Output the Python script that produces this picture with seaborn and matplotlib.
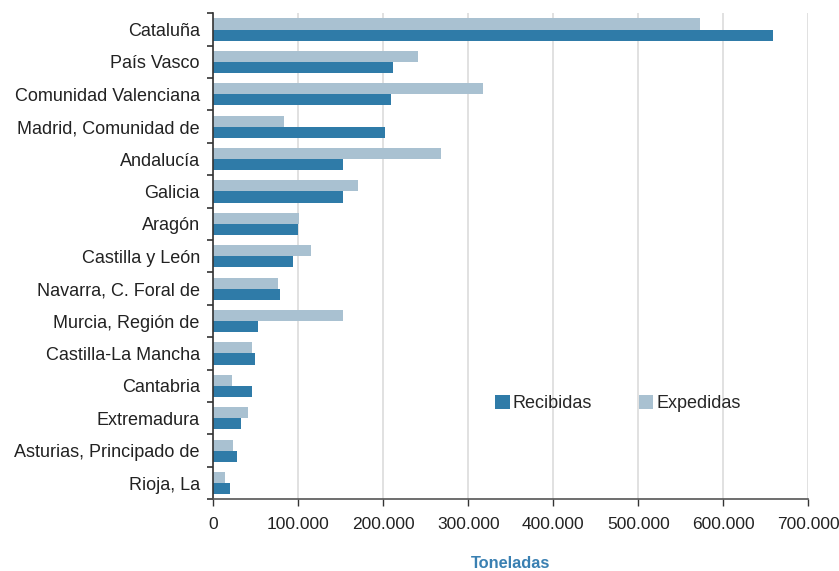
import matplotlib
matplotlib.use("Agg")
import matplotlib.pyplot as plt
import seaborn as sns
import pandas as pd
from matplotlib.ticker import FuncFormatter, FixedLocator
from matplotlib.patches import Patch

regiones = ["Cataluña", "País Vasco", "Comunidad Valenciana", "Madrid, Comunidad de",
            "Andalucía", "Galicia", "Aragón", "Castilla y León", "Navarra, C. Foral de",
            "Murcia, Región de", "Castilla-La Mancha", "Cantabria", "Extremadura",
            "Asturias, Principado de", "Rioja, La"]
recibidas = [658000, 211000, 209000, 201800, 152700, 152700, 99600, 93700, 78400,
             52500, 48900, 45400, 32400, 27700, 19500]
expedidas = [572000, 240600, 317600, 83600, 268000, 170400, 100800, 115000, 76000,
             152700, 45400, 21800, 40700, 23000, 13600]
x_ticks = [0, 100000, 200000, 300000, 400000, 500000, 600000, 700000]

col_rec = "#2f7ba8"
col_exp = "#a9c1d1"

df = pd.DataFrame({
    "Region": regiones * 2,
    "Tipo": ["Expedidas"] * len(regiones) + ["Recibidas"] * len(regiones),
    "Toneladas": expedidas + recibidas,
})

sns.set_theme(style="white")
plt.rcParams["font.family"] = ["Liberation Sans", "DejaVu Sans"]

fig = plt.figure(figsize=(8.39, 5.71), dpi=100)
ax = fig.add_axes([0.2539, 0.1256, 0.9636 - 0.2539, 0.9767 - 0.1256])

sns.barplot(data=df, y="Region", x="Toneladas", hue="Tipo", order=regiones,
            hue_order=["Expedidas", "Recibidas"],
            palette={"Expedidas": col_exp, "Recibidas": col_rec},
            orient="h", width=0.68, saturation=1, errorbar=None, legend=False,
            linewidth=0, edgecolor="none", ax=ax)

ax.set_xlim(0, 700000)
ax.set_ylim(len(regiones) - 0.5, -0.5)
ax.xaxis.set_major_locator(FixedLocator(x_ticks))
ax.xaxis.set_major_formatter(FuncFormatter(lambda v, p: "0" if v == 0 else f"{int(v):,}".replace(",", ".")))
ax.grid(axis="x", color="#dcdcdc", linewidth=1.2)
ax.set_axisbelow(True)

for s in ["top", "right"]:
    ax.spines[s].set_visible(False)
ax.spines["left"].set_color("#333333")
ax.spines["left"].set_linewidth(1.2)
ax.spines["bottom"].set_color("#555555")
ax.spines["bottom"].set_linewidth(1.2)

ax.yaxis.set_minor_locator(FixedLocator([i - 0.5 for i in range(len(regiones) + 1)]))
ax.tick_params(axis="y", which="major", length=0, pad=9.5, labelsize=13, labelcolor="#222222")
ax.tick_params(axis="y", which="minor", left=True, length=4, width=1.2, color="#333333")
ax.tick_params(axis="x", which="major", bottom=True, length=5, width=1, color="#333333",
               pad=8, labelsize=12.5, labelcolor="#222222")

ax.set_ylabel("")
ax.set_xlabel("Toneladas", fontsize=11.8, fontweight="bold", color="#3a80b2", labelpad=17)

handles = [Patch(facecolor=col_rec, edgecolor="none"), Patch(facecolor=col_exp, edgecolor="none")]
ax.legend(handles, ["Recibidas", "Expedidas"], ncol=2, frameon=False,
          loc="center left", bbox_to_anchor=(0.447, 0.197), fontsize=13,
          handlelength=0.8, handleheight=0.8, handletextpad=0.15, columnspacing=2.6)

fig.savefig("out.png", dpi=100)
